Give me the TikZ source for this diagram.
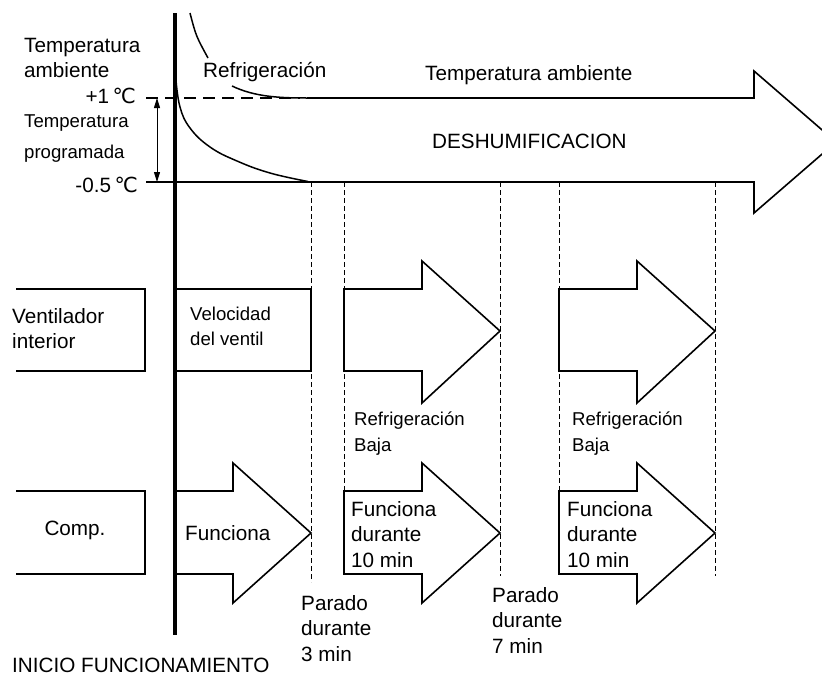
\documentclass[tikz,border=0pt]{standalone}
\usepackage{fontspec}
\setmainfont{Liberation Sans}
\newfontfamily\djvfont{DejaVu Sans}
\usetikzlibrary{arrows.meta}
\newcommand{\mydegC}{{\djvfont ℃}}
\begin{document}
\begin{tikzpicture}[x=1pt,y=-1pt,
  bigtxt/.style={font=\fontsize{20.7}{25.5}\selectfont, inner sep=0pt, align=left},
  smalltxt/.style={font=\fontsize{18.6}{26}\selectfont, inner sep=0pt, align=left},
  outline/.style={line width=1.6pt, line join=miter},
  guide/.style={line width=1pt, dash pattern=on 5pt off 3pt},
  curveline/.style={line width=1.5pt},
  tiptri/.tip={Triangle[length=10pt,width=6pt]}]
\clip (0,0) rectangle (822,675);
\fill[white] (0,0) rectangle (822,675);

% dashed guides
\draw[guide] (311,182) -- (311,582);
\draw[guide] (344,182) -- (344,491);
\draw[guide] (500,182) -- (500,576);
\draw[guide] (559,182) -- (559,491);
\draw[guide] (715,182) -- (715,576);

% big arrow (DESHUMIFICACION)
\draw[outline] (307,98) -- (754,98) -- (754,71) -- (836,142) -- (754,213) -- (754,182) -- (146,182);
\draw[line width=1.2pt, dash pattern=on 12pt off 7pt] (146,98) -- (300,98);

% curves
\draw[curveline] (190,13) .. controls (196,36) .. (208,58);
\draw[curveline] (232,86) .. controls (255,97) and (280,98) .. (307,98);
\draw[curveline] plot[smooth, tension=0.7] coordinates {(176,80) (180,107) (190,128) (210,147) (237,161) (270,173) (308,181.5)};

% range arrow
\coordinate (rtop) at (157,98);
\coordinate (rbot) at (157,182);
\draw[line width=1pt, tiptri-tiptri] (rtop) -- (rbot);

% fan row
\draw[outline] (16,289) -- (145,289) -- (145,371) -- (16,371);
\draw[outline] (175,289) -- (311,289) -- (311,371) -- (175,371);
\draw[outline, fill=white] (344,289) -- (422,289) -- (422,261) -- (500,331) -- (422,403) -- (422,371) -- (344,371) -- cycle;
\draw[outline, fill=white] (559,289) -- (637,289) -- (637,261) -- (715,331) -- (637,403) -- (637,371) -- (559,371) -- cycle;

% compressor row
\draw[outline] (16,491) -- (145,491) -- (145,574) -- (16,574);
\draw[outline, fill=white] (175,491) -- (233,491) -- (233,463) -- (311,533) -- (233,603) -- (233,574) -- (175,574);
\draw[outline, fill=white] (344,491) -- (422,491) -- (422,463) -- (500,533) -- (422,603) -- (422,574) -- (344,574) -- cycle;
\draw[outline, fill=white] (559,491) -- (637,491) -- (637,463) -- (715,533) -- (637,603) -- (637,574) -- (559,574) -- cycle;

% thick start line
\draw[line width=4.8pt] (175,13) -- (175,635);

% texts
\node[bigtxt, anchor=north west] (tamb) at (24,38) {Temperatura\\ambiente};
\node[bigtxt, anchor=base east] (plus) at (136,103) {+1\,\mydegC};
\node[smalltxt, anchor=north west, font=\fontsize{18.6}{31}\selectfont] (tprog) at (24,114) {Temperatura\\programada};
\node[bigtxt, anchor=base east] (minus) at (138,192) {-0.5\,\mydegC};
\node[bigtxt, anchor=base west] (refr) at (203,77) {Refrigeración};
\node[bigtxt, anchor=base west] (tamb2) at (425,80) {Temperatura ambiente};
\node[bigtxt, anchor=base west] (desh) at (432,148) {DESHUMIFICACION};

\node[bigtxt, anchor=north west, font=\fontsize{20.7}{25}\selectfont] (vent) at (12,308) {Ventilador\\interior};
\node[smalltxt, anchor=north west, font=\fontsize{18.6}{25}\selectfont] (velo) at (190,307) {Velocidad\\del ventil};
\node[smalltxt, anchor=north west] (rb1) at (354,412) {Refrigeración\\Baja};
\node[smalltxt, anchor=north west] (rb2) at (572,412) {Refrigeración\\Baja};

\node[bigtxt, anchor=base] (comp) at (75,535) {Comp.};
\node[bigtxt, anchor=base west] (func) at (185,540) {Funciona};
\node[bigtxt, anchor=north west] (f10a) at (351,501) {Funciona\\durante\\10 min};
\node[bigtxt, anchor=north west] (f10b) at (567,501) {Funciona\\durante\\10 min};
\node[bigtxt, anchor=north west] (par3) at (301,595) {Parado\\durante\\3 min};
\node[bigtxt, anchor=north west] (par7) at (492,587) {Parado\\durante\\7 min};
\node[bigtxt, anchor=base west] (inicio) at (12,672) {INICIO FUNCIONAMIENTO};
\end{tikzpicture}
\end{document}
